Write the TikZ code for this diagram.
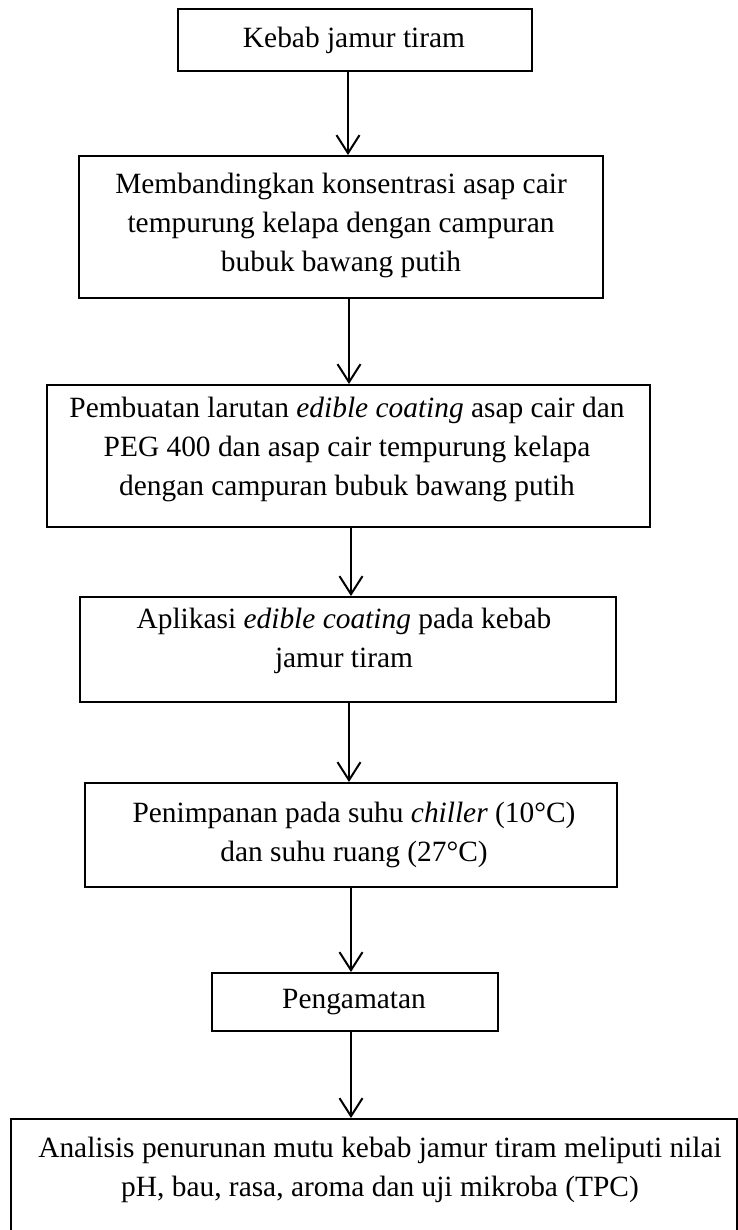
\documentclass[tikz,border=0pt]{standalone}
\usepackage{fontspec}
\setmainfont{Liberation Serif}
\usetikzlibrary{arrows.meta}
\begin{document}
\begin{tikzpicture}[x=0.5pt,y=-0.5pt,
  box/.style={draw, line width=1pt, inner sep=0pt},
  txt/.style={align=center, inner sep=0pt, anchor=north, font=\fontsize{14.7}{19.5}\selectfont},
  arr/.style={line width=1pt, -{Straight Barb[length=9pt,width=11.5pt,line width=1pt]}}]
\useasboundingbox (0,0) rectangle (738,1230);
\clip (0,0) rectangle (738,1230);
% boxes
\node[box, minimum width=177pt, minimum height=31pt] (b1) at (355,40) {};
\node[box, minimum width=262pt, minimum height=71pt] (b2) at (341,227) {};
\node[box, minimum width=301.5pt, minimum height=71pt] (b3) at (348.5,456) {};
\node[box, minimum width=268pt, minimum height=52.5pt] (b4) at (348,649.5) {};
\node[box, minimum width=266pt, minimum height=52pt] (b5) at (351,835) {};
\node[box, minimum width=143pt, minimum height=29pt] (b6) at (355,1002) {};
\node[box, minimum width=363pt, minimum height=60.5pt] (b7) at (374,1179.5) {};
% texts (north = first baseline - 27.3px)
\node[txt] (t1) at (354,19.7) {\strut Kebab jamur tiram};
\node[txt] (t2) at (341,165.7) {\strut Membandingkan konsentrasi asap cair\\tempurung kelapa dengan campuran\\bubuk bawang putih};
\node[txt] (t3) at (347,389.7) {\strut Pembuatan larutan \textit{edible coating} asap cair dan\\PEG 400 dan asap cair tempurung kelapa\\dengan campuran bubuk bawang putih};
\node[txt] (t4) at (344,600.7) {\strut Aplikasi \textit{edible coating} pada kebab\\jamur tiram};
\node[txt] (t5) at (354,794.7) {\strut Penimpanan pada suhu \textit{chiller} (10°C)\\dan suhu ruang (27°C)};
\node[txt] (t6) at (354,980.7) {\strut Pengamatan};
\node[txt] (t7) at (380,1129.7) {\strut Analisis penurunan mutu kebab jamur tiram meliputi nilai\\pH, bau, rasa, aroma dan uji mikroba (TPC)};
% arrow columns
\coordinate (c1) at (348,0);
\coordinate (c2) at (349,0);
\coordinate (c3) at (351,0);
\coordinate (c4) at (349,0);
\coordinate (c5) at (351,0);
\coordinate (c6) at (351,0);
\draw[arr] (b1.south -| c1) -- (b2.north -| c1);
\draw[arr] (b2.south -| c2) -- (b3.north -| c2);
\draw[arr] (b3.south -| c3) -- (b4.north -| c3);
\draw[arr] (b4.south -| c4) -- (b5.north -| c4);
\draw[arr] (b5.south -| c5) -- (b6.north -| c5);
\draw[arr] (b6.south -| c6) -- (b7.north -| c6);
\end{tikzpicture}
\end{document}
